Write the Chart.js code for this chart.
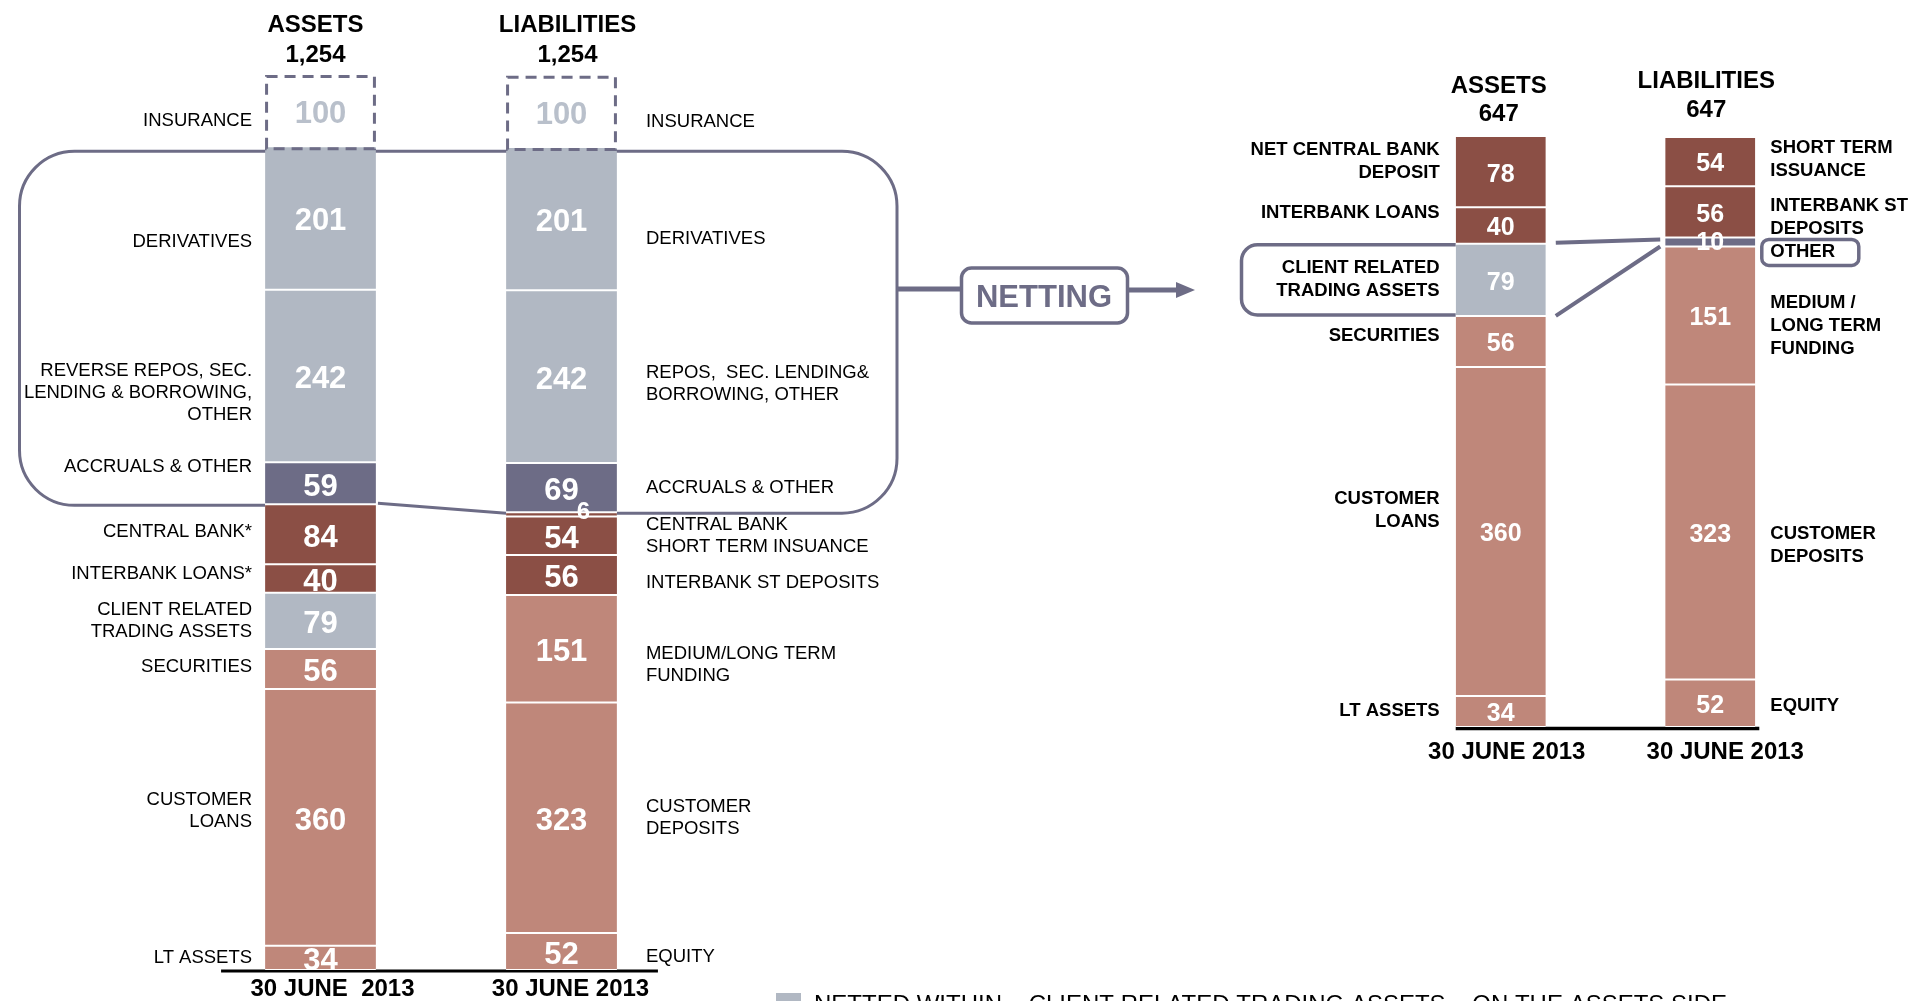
<!DOCTYPE html>
<html>
<head>
<meta charset="utf-8">
<title>Balance sheet netting</title>
<script src="https://cdn.jsdelivr.net/npm/chart.js@4.4.0/dist/chart.umd.min.js"></script>
<style>
	html, body { margin: 0; padding: 0; background: #ffffff; }
	#page { position: relative; width: 1910px; height: 1001px; overflow: hidden; background: #ffffff; }
	canvas { position: absolute; left: 0; top: 0; }
</style>
</head>
<body>
<div id="page">
	<canvas id="grossChart" width="1910" height="1001"></canvas>
	<canvas id="netChart" width="1910" height="1001"></canvas>
</div>
<script>
// ---- data (every stack is listed bottom to top) ----
var grossDates = ['30 JUNE  2013', '30 JUNE 2013'];
var grossTotals = ['1,254', '1,254'];
var grossAssetNames = ['LT ASSETS', 'CUSTOMER\nLOANS', 'SECURITIES', 'CLIENT RELATED\nTRADING ASSETS', 'INTERBANK LOANS*', 'CENTRAL BANK*', 'ACCRUALS & OTHER', 'REVERSE REPOS, SEC.\nLENDING & BORROWING,\nOTHER', 'DERIVATIVES', 'INSURANCE'];
var grossAssetValues = [34, 360, 56, 79, 40, 84, 59, 242, 201, 100];
var grossAssetKinds = ['funded', 'funded', 'funded', 'trading', 'bank', 'bank', 'other', 'trading', 'trading', 'insurance'];
var grossLiabNames = ['EQUITY', 'CUSTOMER\nDEPOSITS', 'MEDIUM/LONG TERM\nFUNDING', 'INTERBANK ST DEPOSITS', 'SHORT TERM INSUANCE', 'CENTRAL BANK', 'ACCRUALS & OTHER', 'REPOS,  SEC. LENDING&\nBORROWING, OTHER', 'DERIVATIVES', 'INSURANCE'];
var grossLiabValues = [52, 323, 151, 56, 54, 6, 69, 242, 201, 100];
var grossLiabKinds = ['funded', 'funded', 'funded', 'bank', 'bank', 'bank', 'other', 'trading', 'trading', 'insurance'];

var netDates = ['30 JUNE 2013', '30 JUNE 2013'];
var netTotals = ['647', '647'];
var netAssetNames = ['LT ASSETS', 'CUSTOMER\nLOANS', 'SECURITIES', 'CLIENT RELATED\nTRADING ASSETS', 'INTERBANK LOANS', 'NET CENTRAL BANK\nDEPOSIT'];
var netAssetValues = [34, 360, 56, 79, 40, 78];
var netAssetKinds = ['funded', 'funded', 'funded', 'trading', 'bank', 'bank'];
var netLiabNames = ['EQUITY', 'CUSTOMER\nDEPOSITS', 'MEDIUM /\nLONG TERM\nFUNDING', 'OTHER', 'INTERBANK ST\nDEPOSITS', 'SHORT TERM\nISSUANCE'];
var netLiabValues = [52, 323, 151, 10, 56, 54];
var netLiabKinds = ['funded', 'funded', 'funded', 'other', 'bank', 'bank'];

var footnoteText = 'NETTED WITHIN    CLIENT RELATED TRADING ASSETS    ON THE ASSETS SIDE';

// ---- layout / look ----
var fontFamily = '"Liberation Sans", Arial, Helvetica, sans-serif';
var lineColour = '#6D6C86';
var kindColours = {
	funded: '#BF877A',
	bank: '#8B4F45',
	trading: '#B1B8C3',
	other: '#6D6C86',
	insurance: '#FFFFFF'
};
// vertical nudges of the side names, in pixels
var grossAssetShift = [0, -6, -2, 0, -5, -2, -16, 17, 24, 10];
var grossLiabShift = [5, 0, 16, 8, 11, 11, 0, 7, 20, 11];
var netAssetShift = [-1, -21, -6, 0, -13, -10];
var netLiabShift = [3, 13, 10, 10, 6, -2];

function sum(list)
{
	var total = 0;
	for (var i = 0; i < list.length; i++)
	{
		total += list[i];
	}
	return total;
}

function buildDatasets(names, values, kinds, shifts, side)
{
	var sets = [];
	for (var i = 0; i < values.length; i++)
	{
		sets.push({
			label: names[i],
			data: side == 0 ? [values[i], null] : [null, values[i]],
			backgroundColor: kindColours[kinds[i]],
			borderColor: '#FFFFFF',
			borderWidth: {top: 1, bottom: 1, left: 0, right: 0},
			borderSkipped: false,
			side: side,
			kind: kinds[i],
			labelShift: shifts[i]
		});
	}
	return sets;
}

function segmentBox(chart, datasetIndex)
{
	var side = chart.data.datasets[datasetIndex].side;
	var el = chart.getDatasetMeta(datasetIndex).data[side];
	return {
		left: el.x - el.width / 2,
		right: el.x + el.width / 2,
		top: Math.min(el.y, el.base),
		bottom: Math.max(el.y, el.base),
		x: el.x
	};
}

function roundRectPath(ctx, x, y, w, h, r)
{
	ctx.beginPath();
	ctx.moveTo(x + r, y);
	ctx.lineTo(x + w - r, y);
	ctx.arcTo(x + w, y, x + w, y + r, r);
	ctx.lineTo(x + w, y + h - r);
	ctx.arcTo(x + w, y + h, x + w - r, y + h, r);
	ctx.lineTo(x + r, y + h);
	ctx.arcTo(x, y + h, x, y + h - r, r);
	ctx.lineTo(x, y + r);
	ctx.arcTo(x, y, x + r, y, r);
	ctx.closePath();
}

// values inside the bars and names beside them
var segmentText = {
	id: 'segmentText',
	afterDatasetsDraw: function(chart, args, opts)
	{
		var ctx = chart.ctx;
		ctx.save();
		chart.data.datasets.forEach(function(ds, i)
		{
			var side = ds.side;
			var box = segmentBox(chart, i);
			var midY = (box.top + box.bottom) / 2;
			var small = (box.bottom - box.top) < 12;
			var size = small ? opts.smallSize : opts.valueSize;

			ctx.textAlign = 'center';
			ctx.textBaseline = 'middle';
			ctx.fillStyle = ds.kind == 'insurance' ? '#B9C0CB' : '#FFFFFF';
			ctx.font = 'bold ' + size + 'px ' + fontFamily;
			ctx.fillText(String(ds.data[side]), box.x + (small ? opts.smallShiftX : 0), midY + size * 0.12 + (small ? opts.smallShiftY : 0));

			var lines = ds.label.split('\n');
			var lineY = midY + ds.labelShift - (lines.length - 1) * opts.lineHeight / 2;
			var lineX = side == 0 ? box.left - opts.gapLeft : box.right + opts.gapRight;
			ctx.textAlign = side == 0 ? 'right' : 'left';
			ctx.fillStyle = '#000000';
			ctx.font = opts.nameWeight + ' ' + opts.nameSize + 'px ' + fontFamily;
			for (var k = 0; k < lines.length; k++)
			{
				ctx.fillText(lines[k], lineX, lineY + k * opts.lineHeight);
			}
		});
		ctx.restore();
	}
};

function drawHeads(chart, dates, totals, titleLift, titleShift, dateDrop, dateShift)
{
	var ctx = chart.ctx;
	var heads = ['ASSETS', 'LIABILITIES'];
	var area = chart.chartArea;
	ctx.save();
	ctx.fillStyle = '#000000';
	ctx.textAlign = 'center';
	ctx.textBaseline = 'alphabetic';
	ctx.font = 'bold 24px ' + fontFamily;
	for (var s = 0; s < 2; s++)
	{
		var x = chart.scales.x.getPixelForValue(s);
		ctx.fillText(heads[s], x + titleShift[s], area.top - titleLift[s][0]);
		ctx.fillText(totals[s], x + titleShift[s], area.top - titleLift[s][1]);
		ctx.fillText(dates[s], x + dateShift[s], area.bottom + dateDrop);
	}
	ctx.restore();
}

var grossNotes = {
	id: 'grossNotes',
	beforeDatasetsDraw: function(chart)
	{
		var ctx = chart.ctx;
		var n = grossAssetValues.length;
		var lowA = segmentBox(chart, 0);
		var lowL = segmentBox(chart, n);
		var accA = segmentBox(chart, grossAssetNames.indexOf('ACCRUALS & OTHER'));
		var accL = segmentBox(chart, n + grossLiabNames.indexOf('ACCRUALS & OTHER'));
		var insA = segmentBox(chart, grossAssetNames.indexOf('INSURANCE'));
		ctx.save();

		// base line
		ctx.strokeStyle = '#000000';
		ctx.lineWidth = 3;
		ctx.beginPath();
		ctx.moveTo(lowA.left - 44, lowA.bottom + 1);
		ctx.lineTo(lowL.right + 41, lowL.bottom + 1);
		ctx.stroke();

		// rounded frame around the netted items
		var x0 = 19.5, x1 = 897, r = 55;
		var topY = insA.bottom + 5;
		var yA = accA.bottom + 1;
		var yL = accL.bottom + 1;
		ctx.strokeStyle = lineColour;
		ctx.lineWidth = 3;
		ctx.beginPath();
		ctx.moveTo(accA.left, yA);
		ctx.lineTo(x0 + r, yA);
		ctx.arcTo(x0, yA, x0, yA - r, r);
		ctx.lineTo(x0, topY + r);
		ctx.arcTo(x0, topY, x0 + r, topY, r);
		ctx.lineTo(x1 - r, topY);
		ctx.arcTo(x1, topY, x1, topY + r, r);
		ctx.lineTo(x1, yL - r);
		ctx.arcTo(x1, yL, x1 - r, yL, r);
		ctx.lineTo(accL.right, yL);
		ctx.stroke();
		ctx.beginPath();
		ctx.moveTo(accA.right + 2, yA - 2);
		ctx.lineTo(accL.left, yL);
		ctx.stroke();

		// netting arrow
		ctx.lineWidth = 5;
		ctx.beginPath();
		ctx.moveTo(x1, 289);
		ctx.lineTo(961, 289);
		ctx.moveTo(1128, 290);
		ctx.lineTo(1180, 290);
		ctx.stroke();
		ctx.fillStyle = lineColour;
		ctx.beginPath();
		ctx.moveTo(1176, 282);
		ctx.lineTo(1195, 290);
		ctx.lineTo(1176, 298);
		ctx.closePath();
		ctx.fill();
		ctx.lineWidth = 3.5;
		roundRectPath(ctx, 961.5, 268, 166, 55, 10);
		ctx.fillStyle = '#FFFFFF';
		ctx.fill();
		ctx.stroke();
		ctx.fillStyle = lineColour;
		ctx.font = 'bold 31px ' + fontFamily;
		ctx.textAlign = 'center';
		ctx.textBaseline = 'middle';
		ctx.fillText('NETTING', 1044, 298);

		// footnote, cut by the bottom edge
		ctx.fillStyle = kindColours.trading;
		ctx.fillRect(776, 993, 25, 25);
		ctx.fillStyle = '#000000';
		ctx.font = '24px ' + fontFamily;
		ctx.textAlign = 'left';
		ctx.textBaseline = 'alphabetic';
		ctx.fillText(footnoteText, 814, 1012);
		ctx.restore();
	},
	afterDatasetsDraw: function(chart)
	{
		var ctx = chart.ctx;
		var n = grossAssetValues.length;
		var boxes = [segmentBox(chart, grossAssetNames.indexOf('INSURANCE')), segmentBox(chart, n + grossLiabNames.indexOf('INSURANCE'))];
		ctx.save();
		ctx.strokeStyle = lineColour;
		ctx.lineWidth = 3;
		ctx.setLineDash([11, 7]);
		boxes.forEach(function(b)
		{
			ctx.strokeRect(b.left + 1.5, b.top + 1.5, b.right - b.left - 3, b.bottom - b.top + 1);
		});
		ctx.restore();
		drawHeads(chart, grossDates, grossTotals, [[43, 13], [43, 13]], [-5, 6], 26, [12, 9]);
	}
};

var netNotes = {
	id: 'netNotes',
	beforeDatasetsDraw: function(chart)
	{
		var ctx = chart.ctx;
		var n = netAssetValues.length;
		var lowA = segmentBox(chart, 0);
		var lowL = segmentBox(chart, n);
		var client = segmentBox(chart, netAssetNames.indexOf('CLIENT RELATED\nTRADING ASSETS'));
		var other = segmentBox(chart, n + netLiabNames.indexOf('OTHER'));
		ctx.save();
		ctx.strokeStyle = '#000000';
		ctx.lineWidth = 3.5;
		ctx.beginPath();
		ctx.moveTo(lowA.left, lowA.bottom + 1.5);
		ctx.lineTo(lowL.right + 4, lowL.bottom + 1.5);
		ctx.stroke();

		// open frame round the trading assets
		var bx = 1241.5, r = 16;
		ctx.strokeStyle = lineColour;
		ctx.lineWidth = 3.5;
		ctx.beginPath();
		ctx.moveTo(client.left, client.top + 1);
		ctx.lineTo(bx + r, client.top + 1);
		ctx.arcTo(bx, client.top + 1, bx, client.top + 1 + r, r);
		ctx.lineTo(bx, client.bottom - 1 - r);
		ctx.arcTo(bx, client.bottom - 1, bx + r, client.bottom - 1, r);
		ctx.lineTo(client.left, client.bottom - 1);
		ctx.stroke();

		// links to the remaining "other" item
		ctx.lineWidth = 4;
		ctx.beginPath();
		ctx.moveTo(client.right + 10, client.top - 1);
		ctx.lineTo(other.left - 5, other.top + 2);
		ctx.moveTo(client.right + 10, client.bottom);
		ctx.lineTo(other.left - 5, other.bottom);
		ctx.stroke();
		ctx.restore();
	},
	afterDatasetsDraw: function(chart)
	{
		var ctx = chart.ctx;
		var n = netAssetValues.length;
		var other = segmentBox(chart, n + netLiabNames.indexOf('OTHER'));
		ctx.save();
		ctx.strokeStyle = lineColour;
		ctx.lineWidth = 3.5;
		roundRectPath(ctx, other.right + 6.5, other.top + 2, 97, 26, 7);
		ctx.stroke();
		ctx.restore();
		drawHeads(chart, netDates, netTotals, [[43, 15], [48, 19]], [-2, -4], 32, [6, 15]);
	}
};

function createBalanceChart(canvasElement, labels, datasets, maxValue, padding, barShare, textStyle, notes)
{
	var createdChart = new Chart(canvasElement, {
		type: 'bar',
		data: {
			labels: labels,
			datasets: datasets
		},
		options: {
			responsive: false,
			maintainAspectRatio: false,
			animation: false,
			events: [],
			layout: { padding: padding },
			datasets: {
				bar: { categoryPercentage: 1, barPercentage: barShare }
			},
			scales: {
				x: { display: false, stacked: true },
				y: { display: false, stacked: true, min: 0, max: maxValue }
			},
			plugins: {
				legend: { display: false },
				tooltip: { enabled: false },
				segmentText: textStyle
			}
		},
		plugins: [segmentText, notes]
	});
	return createdChart;
}

var grossSets = buildDatasets(grossAssetNames, grossAssetValues, grossAssetKinds, grossAssetShift, 0)
	.concat(buildDatasets(grossLiabNames, grossLiabValues, grossLiabKinds, grossLiabShift, 1));
var netSets = buildDatasets(netAssetNames, netAssetValues, netAssetKinds, netAssetShift, 0)
	.concat(buildDatasets(netLiabNames, netLiabValues, netLiabKinds, netLiabShift, 1));

createBalanceChart(document.getElementById('grossChart'), grossDates, grossSets,
	Math.max(sum(grossAssetValues), sum(grossLiabValues)),
	{left: 200, right: 1228, top: 75, bottom: 31}, 0.46,
	{valueSize: 31, smallSize: 24, smallShiftX: 22, smallShiftY: -5, nameSize: 18.5, nameWeight: 'normal', lineHeight: 22, gapLeft: 13, gapRight: 29},
	grossNotes);

createBalanceChart(document.getElementById('netChart'), netDates, netSets,
	Math.max(sum(netAssetValues), sum(netLiabValues)),
	{left: 1396, right: 95, top: 136, bottom: 274}, 0.43,
	{valueSize: 25, smallSize: 25, smallShiftX: 0, smallShiftY: -2, nameSize: 18.5, nameWeight: 'bold', lineHeight: 23, gapLeft: 16, gapRight: 15},
	netNotes);
</script>
</body>
</html>
